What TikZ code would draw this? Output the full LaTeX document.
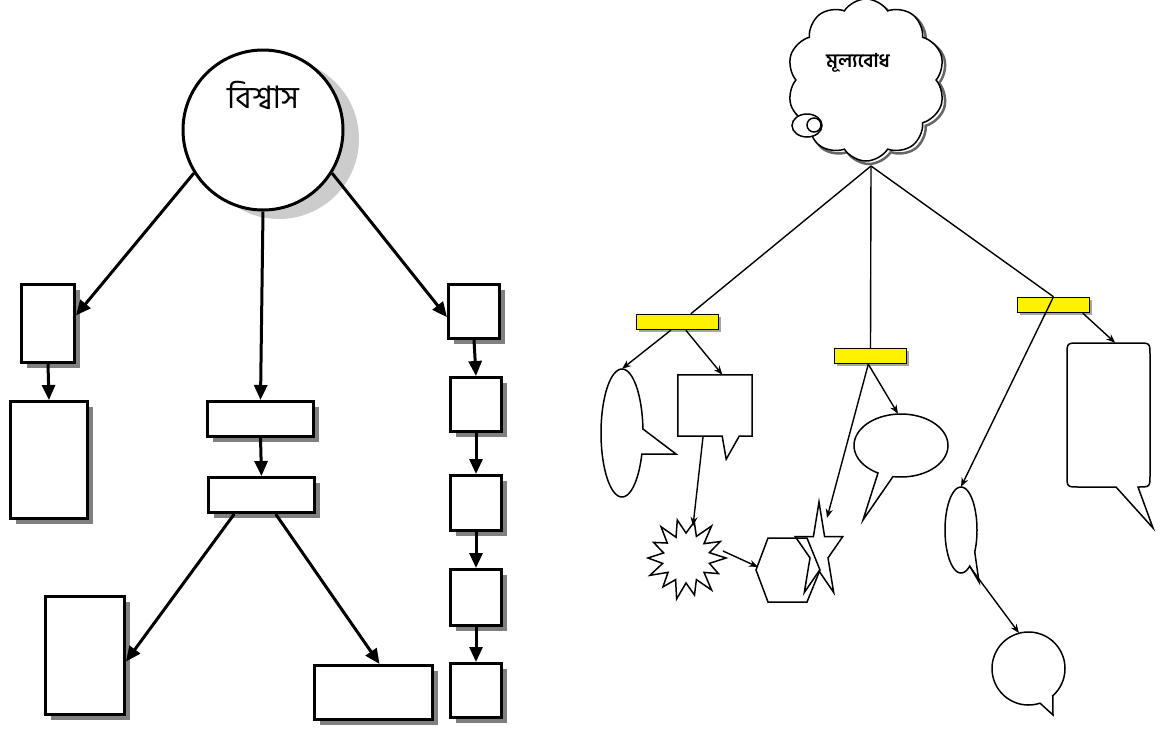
\documentclass[tikz,border=0pt]{standalone}
\usepackage{fontspec}
\newfontfamily\bn[Script=Bengali]{Hind Siliguri}
\usetikzlibrary{arrows.meta,calc,shapes.geometric,shapes.symbols,shadows}
\begin{document}
\begin{tikzpicture}[x=1pt,y=-1pt,
  lbox/.style={draw, line width=3pt, fill=white, inner sep=0pt, rectangle,
    drop shadow={shadow xshift=5pt, shadow yshift=-5pt, fill=black!50, opacity=1}},
  bigarr/.style={line width=3pt, -{Triangle[length=15pt,width=13pt]}},
  thinln/.style={line width=1.4pt},
  thinarr/.style={thinln, -{Stealth[length=9pt,width=7pt]}},
  cal/.style={draw, line width=1.5pt, fill=white},
  ghost/.style={draw=none, inner sep=0pt},
  ybar/.style={draw, line width=1.5pt, fill=yellow, inner sep=0pt,
    drop shadow={shadow xshift=2pt, shadow yshift=-2pt, fill=black!35, opacity=1}}]
\useasboundingbox (0,0) rectangle (1163,732);

% ---------------- left diagram ----------------
\node[circle, draw, line width=3pt, fill=white, minimum size=160pt, inner sep=0pt,
  drop shadow={shadow xshift=16pt, shadow yshift=-9pt, fill=gray!40, opacity=1}] (bis) at (263,130) {};
\node[font=\bn\fontsize{31}{34}\selectfont] (bistext) at (263,95) {বিশ্বাস};

\node[lbox, minimum width=53pt, minimum height=78pt] (A) at (48,323.5) {};
\node[lbox, minimum width=77pt, minimum height=117pt] (B) at (49,460) {};
\node[lbox, minimum width=106pt, minimum height=35pt] (C) at (260.5,419) {};
\node[lbox, minimum width=106pt, minimum height=35pt] (D) at (261.5,495) {};
\node[lbox, minimum width=79pt, minimum height=118pt] (E) at (85,655.5) {};
\node[lbox, minimum width=118pt, minimum height=54pt] (F) at (373.5,692.5) {};
\node[lbox, minimum width=51pt, minimum height=54pt] (G1) at (474,311.5) {};
\node[lbox, minimum width=51pt, minimum height=54pt] (G2) at (476,404.5) {};
\node[lbox, minimum width=51pt, minimum height=55pt] (G3) at (476,503) {};
\node[lbox, minimum width=51pt, minimum height=56pt] (G4) at (476,597.5) {};
\node[lbox, minimum width=51pt, minimum height=54pt] (G5) at (476,690.5) {};

\draw[bigarr] (bis.212) -- ($(A.north east)!0.4!(A.south east)$);
\draw[bigarr] (bis.south) -- (C.north);
\draw[bigarr] (bis.328) -- ($(G1.north west)!0.6!(G1.south west)$);
\draw[bigarr] (A.south) -- (B.north);
\draw[bigarr] (C.south) -- (D.north);
\draw[bigarr] ($(D.south west)!0.25!(D.south east)$) -- ($(E.north east)!0.55!(E.south east)$);
\draw[bigarr] ($(D.south west)!0.63!(D.south east)$) -- ($(F.north west)!0.55!(F.north east)$);
\draw[bigarr] (G1.south) -- (G2.north);
\draw[bigarr] (G2.south) -- (G3.north);
\draw[bigarr] (G3.south) -- (G4.north);
\draw[bigarr] (G4.south) -- (G5.north);

% ---------------- right diagram ----------------
\node[cloud, cloud puffs=10, cloud puff arc=115, aspect=1, minimum width=158pt, minimum height=162pt, inner sep=0pt,
  draw=black!60, line width=2.5pt] (cloudsh) at (869,83) {};
\node[cloud, cloud puffs=10, cloud puff arc=115, aspect=1, minimum width=158pt, minimum height=162pt, inner sep=0pt,
  draw, fill=white, line width=1.5pt] (cloud) at (866,80) {};
\node[font=\bn\bfseries\fontsize{19}{21}\selectfont] (cloudtext) at (858,63) {মূল্যবোধ};
\node[ellipse, draw, fill=white, line width=1.5pt, minimum width=30pt, minimum height=23pt, inner sep=0pt] (bub1) at (807,125.5) {};
\node[circle, draw, fill=white, line width=1.5pt, minimum size=14pt, inner sep=0pt] (bub2) at (814,125) {};
\coordinate (cb) at (871,166);

\node[ybar, minimum width=82pt, minimum height=15pt] (bar1) at (677.5,322) {};
\node[ybar, minimum width=72pt, minimum height=15pt] (bar2) at (870.5,356) {};
\node[ybar, minimum width=72pt, minimum height=15pt] (bar3) at (1053.5,305) {};

\draw[thinln] (cb) -- ($(bar1.north west)!0.66!(bar1.north east)$);
\draw[thinln] (cb) -- (bar2.north);
\draw[thinln] (cb) -- (bar3.north);

% ellipse callout 1
\node[ghost, ellipse, minimum width=42pt, minimum height=128pt] (e1) at (622,433) {};
\draw[cal] plot[domain=19.15:356.42, samples=90] ({622+21*cos(\x)},{433+64*sin(\x)}) -- (676,454) -- cycle;
% rectangle callout
\node[ghost, rectangle, minimum width=74pt, minimum height=61pt] (r1) at (715,405.5) {};
\draw[cal] (r1.north west) -- (r1.north east) -- (r1.south east) -- ++(-13,0) -- ++(-13,23) -- ++(-4,-23) -- (r1.south west) -- cycle;
% ellipse callout 2
\node[ghost, ellipse, minimum width=94pt, minimum height=63pt] (e2) at (901,445.5) {};
\draw[cal] plot[domain=119.3:459.8, samples=90] ({901+47*cos(\x)},{445.5+31.5*sin(\x)}) -- (863,520) -- cycle;
% rounded rectangle callout
\node[ghost, rectangle, minimum width=83pt, minimum height=144pt] (r3) at (1108.5,415) {};
\draw[cal] (1079,343) -- (1138,343) .. controls (1150,343) .. (1150,355) -- (1150,475)
  .. controls (1150,487) .. (1138,487) -- (1153,528) -- (1116,487) -- (1079,487)
  .. controls (1067,487) .. (1067,475) -- (1067,355) .. controls (1067,343) .. (1079,343) -- cycle;
% ellipse callout 3
\node[ghost, ellipse, minimum width=32pt, minimum height=86pt] (e3) at (961,530) {};
\draw[cal] plot[domain=56.8:390.8, samples=90] ({961+16*cos(\x)},{530+43*sin(\x)}) -- (979,582) -- cycle;
\coordinate (e3tail) at (970,567);
% round callout
\node[ghost, circle, minimum size=73pt] (c4) at (1028.5,668.5) {};
\draw[cal] plot[domain=71.6:408.4, samples=90] ({1028.5+36.5*cos(\x)},{668.5+36.5*sin(\x)}) -- (1053,715) -- cycle;

% explosion
\coordinate (expc) at (686,558);
\draw[cal] ($(expc)+(0:40)$) \foreach \a/\r in {12.9/24, 25.7/36, 38.6/23, 51.4/41, 64.3/24, 77.1/38, 90/25,
  102.9/42, 115.7/24, 128.6/37, 141.4/23, 154.3/40, 167.1/24, 180/38, 192.9/23, 205.7/36,
  218.6/24, 231.4/40, 244.3/23, 257.1/39, 270/25, 282.9/37, 295.7/24, 308.6/41, 321.4/23,
  334.3/38, 347.1/24} { -- ($(expc)+(\a:\r)$) } -- cycle;
\coordinate (exptop) at (693,526);
\coordinate (expright) at (723,551);

% hexagon and star
\draw[line width=1.5pt] (768,538) -- (807,538) -- (820,570) -- (807,602) -- (768,602) -- (756,570) -- cycle;
\coordinate (hexl) at (758,567);
\draw[line width=1.5pt] (819,502) -- (824.6,536.6) -- (842.8,536.5) -- (828,557.9) -- (833.7,592.5)
  -- (819,571) -- (804.3,592.5) -- (810,557.9) -- (795.2,536.5) -- (813.4,536.6) -- cycle;
\coordinate (startip) at (827,518);

% thin connectors
\draw[thinarr] ($(bar1.south west)!0.42!(bar1.south east)$) -- (e1.north);
\draw[thinarr] ($(bar1.south west)!0.6!(bar1.south east)$) -- ($(r1.north west)!0.6!(r1.north east)$);
\draw[thinarr] ($(r1.south west)!0.34!(r1.south east)$) -- (exptop);
\draw[thinarr] (expright) -- (hexl);
\draw[thinarr] ($(bar2.south west)!0.47!(bar2.south east)$) -- (startip);
\draw[thinarr] ($(bar2.south west)!0.47!(bar2.south east)$) -- ($(e2.north)+(-3,0)$);
\draw[thinarr] (bar3.north) -- (e3.north);
\draw[thinarr] ($(bar3.south west)!0.9!(bar3.south east)$) -- ($(r3.north west)!0.58!(r3.north east)$);
\draw[thinarr] (e3tail) -- (c4.105);
\end{tikzpicture}
\end{document}
